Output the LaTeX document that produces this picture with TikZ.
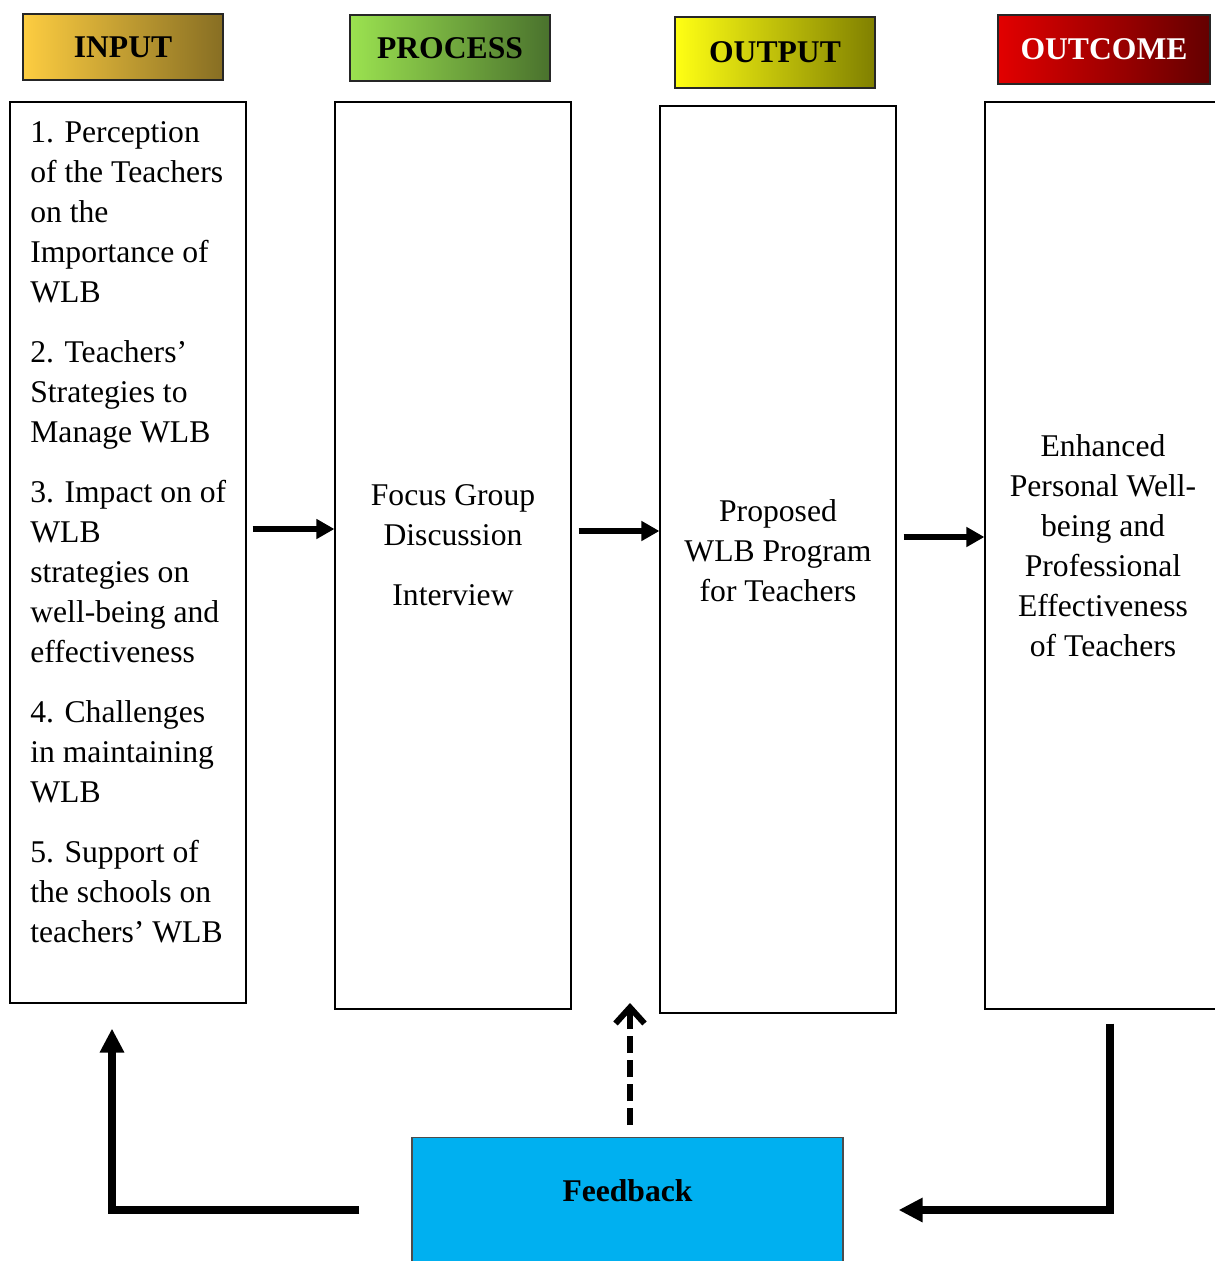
\documentclass[tikz,border=0pt]{standalone}
\usepackage{fontspec}
\setmainfont{Liberation Serif}
\usepackage{tikz}
\usetikzlibrary{calc,arrows.meta}

\definecolor{inL}{RGB}{253,205,65}
\definecolor{inR}{RGB}{135,110,35}
\definecolor{prL}{RGB}{155,226,80}
\definecolor{prR}{RGB}{74,114,45}
\definecolor{ouL}{RGB}{255,255,20}
\definecolor{ouR}{RGB}{128,128,0}
\definecolor{ocL}{RGB}{226,0,0}
\definecolor{ocR}{RGB}{100,0,0}
\definecolor{fbblue}{RGB}{0,176,240}

\begin{document}
\begin{tikzpicture}[x=0.02cm,y=-0.02cm,
  every node/.style={font=\fontsize{18}{22.76}\selectfont},
  head/.style={draw=black!85,line width=0.9pt,inner sep=0pt,minimum width=4cm,font=\fontsize{18}{22.76}\selectfont\bfseries},
  col/.style={draw,line width=0.7pt,inner sep=0pt,minimum width=4.72cm},
  txt/.style={inner sep=0pt,anchor=north,align=center},
  flow/.style={line width=3.2pt,-{Triangle[length=0.36cm,width=0.38cm]}},
  back/.style={line width=4.5pt,-{Triangle[length=0.48cm,width=0.46cm]}},
  fbdash/.style={line width=3.4pt,dash pattern=on 0.34cm off 0.14cm,-{Straight Barb[length=0.32cm,width=0.58cm]}}]

\useasboundingbox (0,0) rectangle (1214,1261);

% headers
\node[head,minimum height=1.32cm,left color=inL,right color=inR] (hin) at (123,47) {INPUT};
\node[head,minimum height=1.32cm,left color=prL,right color=prR] (hpr) at (450,48) {PROCESS};
\node[head,minimum height=1.42cm,left color=ouL,right color=ouR] (hou) at (775,52.5) {OUTPUT};
\node[head,minimum width=4.24cm,minimum height=1.38cm,left color=ocL,right color=ocR,text=white] (hoc) at (1104,49.5) {OUTCOME};

% columns
\node[col,minimum height=18.02cm] (cin) at (128,552.5) {};
\node[col,minimum height=18.14cm] (cpr) at (453,555.5) {};
\node[col,minimum height=18.14cm] (cou) at (778,559.5) {};
\node[col,minimum height=18.14cm] (coc) at (1103,555.5) {};

% column texts
\node[txt,anchor=north west,align=left] (tin) at (30,121) {1. Perception\\of the Teachers\\on the\\Importance of\\WLB\\[11.4pt]
2. Teachers’\\Strategies to\\Manage WLB\\[11.4pt]
3. Impact on of\\WLB\\strategies on\\well-being and\\effectiveness\\[11.4pt]
4. Challenges\\in maintaining\\WLB\\[11.4pt]
5. Support of\\the schools on\\teachers’ WLB};
\node[txt] (tpr) at (453,484) {Focus Group\\Discussion\\[11.4pt]Interview};
\node[txt] (tou) at (778,499) {Proposed\\WLB Program\\for Teachers};
\node[txt] (toc) at (1103,434) {Enhanced\\Personal Well-\\being and\\Professional\\Effectiveness\\of Teachers};

% feedback box
\node[draw=black!70,line width=0.7pt,fill=fbblue,minimum width=8.62cm,inner sep=0pt,
  text height=1.28cm,text depth=1.52cm,anchor=north,font=\fontsize{18}{22.76}\selectfont\bfseries] (fb) at (627.5,1137) {Feedback};

% arrows
\coordinate (r1) at (0,529);
\coordinate (r2) at (0,531);
\coordinate (r3) at (0,537);
\coordinate (rb) at (0,1210);
\coordinate (dtip) at (630,1003);

\draw[flow,shorten <=0.12cm] (cin.east |- r1) -- (cpr.west |- r1);
\draw[flow,shorten <=0.14cm] (cpr.east |- r2) -- (cou.west |- r2);
\draw[flow,shorten <=0.14cm] (cou.east |- r3) -- (coc.west |- r3);

% feedback loop
\draw[fbdash,shorten <=0.24cm] (fb.north -| dtip) -- (dtip);
\draw[back] ($(coc.south)+(7,14)$) |- ($(fb.east |- rb)+(55,0)$);
\draw[back] ($(fb.west |- rb)+(-52,0)$) -| ($(cin.south)+(-16,25)$);
\end{tikzpicture}
\end{document}
